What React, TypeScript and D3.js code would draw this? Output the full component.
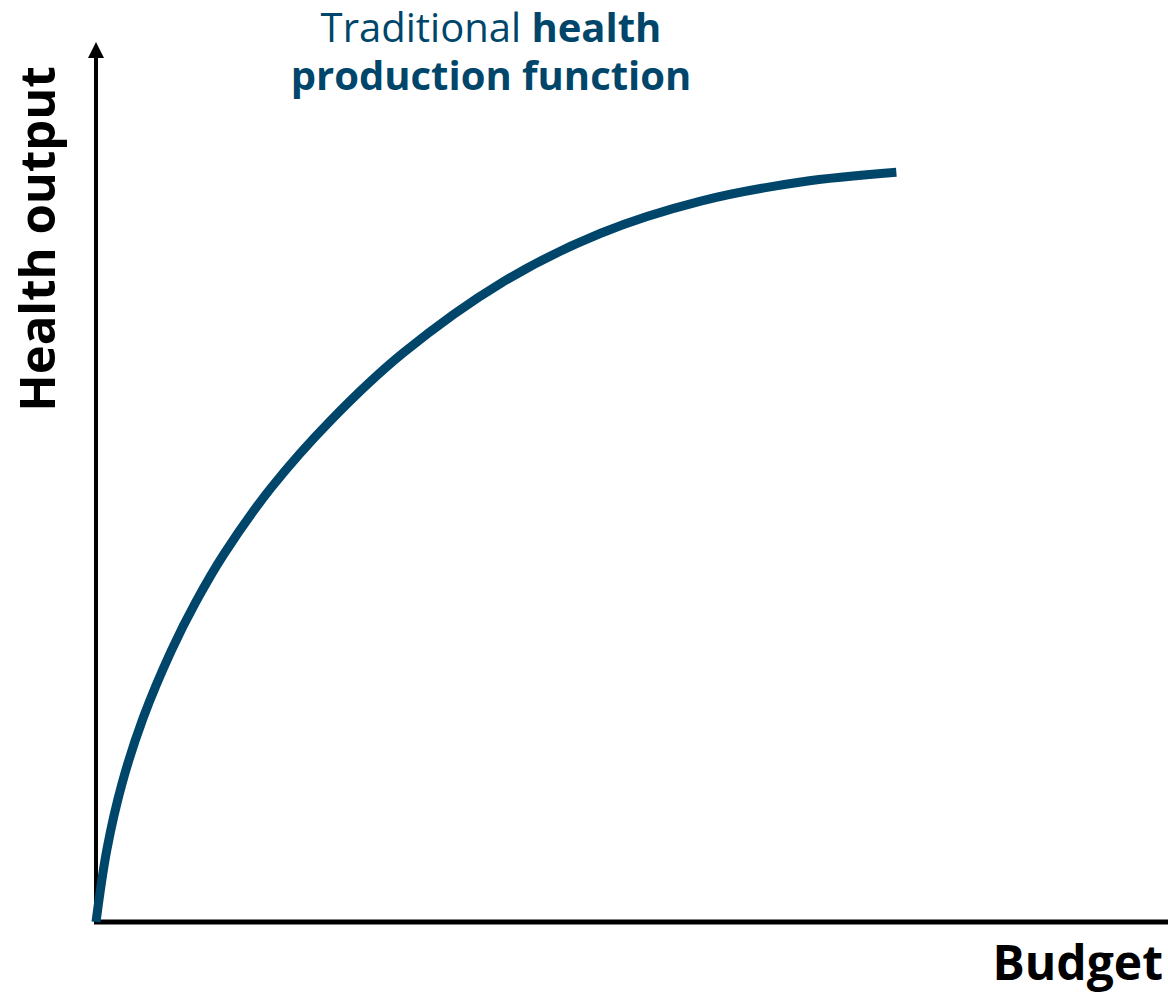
import * as d3 from 'd3';

// Budget (x) vs health output (y), both in % of axis length
const budget = [0, 1.01, 2.43, 4.4, 7.03, 9.34, 11.94, 16.32, 21.95, 28.64, 37.9, 47.08, 56.41, 65.76, 74.66];
const healthOutput = [0, 8.2, 15.74, 23.2, 30.85, 36.43, 41.82, 49.31, 57.06, 64.65, 72.69, 78.27, 81.92, 84.09, 85.19];

const titleLine1Regular = 'Traditional ';
const titleLine1Bold = 'health';
const titleLine2 = 'production function';
const xLabel = 'Budget';
const yLabel = 'Health output';

const W = 1168;
const H = 995;
const CURVE = '#00466b';
const FONT = '"Open Sans", "Noto Sans", sans-serif';

export default function App() {
  const x = d3.scaleLinear().domain([0, 100]).range([96, 1168]);
  const y = d3.scaleLinear().domain([0, 100]).range([922, 42]);

  const pts: [number, number][] = budget.map((b, i) => [b, healthOutput[i]]);
  const line = d3
    .line<[number, number]>()
    .x((d) => x(d[0]))
    .y((d) => y(d[1]))
    .curve(d3.curveCatmullRom.alpha(0.5));

  const x0 = x(0);
  const y0 = y(0);
  const yTop = y(100);

  return (
    <svg
      width={W}
      height={H}
      style={{ position: 'absolute', left: 0, top: 0, background: '#fff' }}
    >
      {/* title */}
      <text x={491} y={42} textAnchor="middle" fill={CURVE} fontFamily={FONT} fontSize={40}>
        <tspan>{titleLine1Regular}</tspan>
        <tspan fontWeight="bold">{titleLine1Bold}</tspan>
      </text>
      <text x={491} y={90} textAnchor="middle" fill={CURVE} fontFamily={FONT} fontSize={40} fontWeight="bold">
        {titleLine2}
      </text>

      {/* axes */}
      <line x1={x0} x2={x0} y1={y0 + 2} y2={yTop + 14} stroke="#000" strokeWidth={4} />
      <path d={`M${x0},${yTop} L${x0 - 8},${yTop + 16} L${x0 + 8},${yTop + 16} Z`} fill="#000" />
      <line x1={x0 - 2} x2={x(100)} y1={y0} y2={y0} stroke="#000" strokeWidth={5} />

      {/* curve */}
      <path d={line(pts) || ''} fill="none" stroke={CURVE} strokeWidth={9} strokeLinecap="butt" />

      {/* axis labels */}
      <text x={1163} y={980} textAnchor="end" fontFamily={FONT} fontWeight="bold" fontSize={48} fill="#000">
        {xLabel}
      </text>
      <text
        transform={`translate(55,239) rotate(-90)`}
        textAnchor="middle"
        fontFamily={FONT}
        fontWeight="bold"
        fontSize={49}
        fill="#000"
      >
        {yLabel}
      </text>
    </svg>
  );
}
